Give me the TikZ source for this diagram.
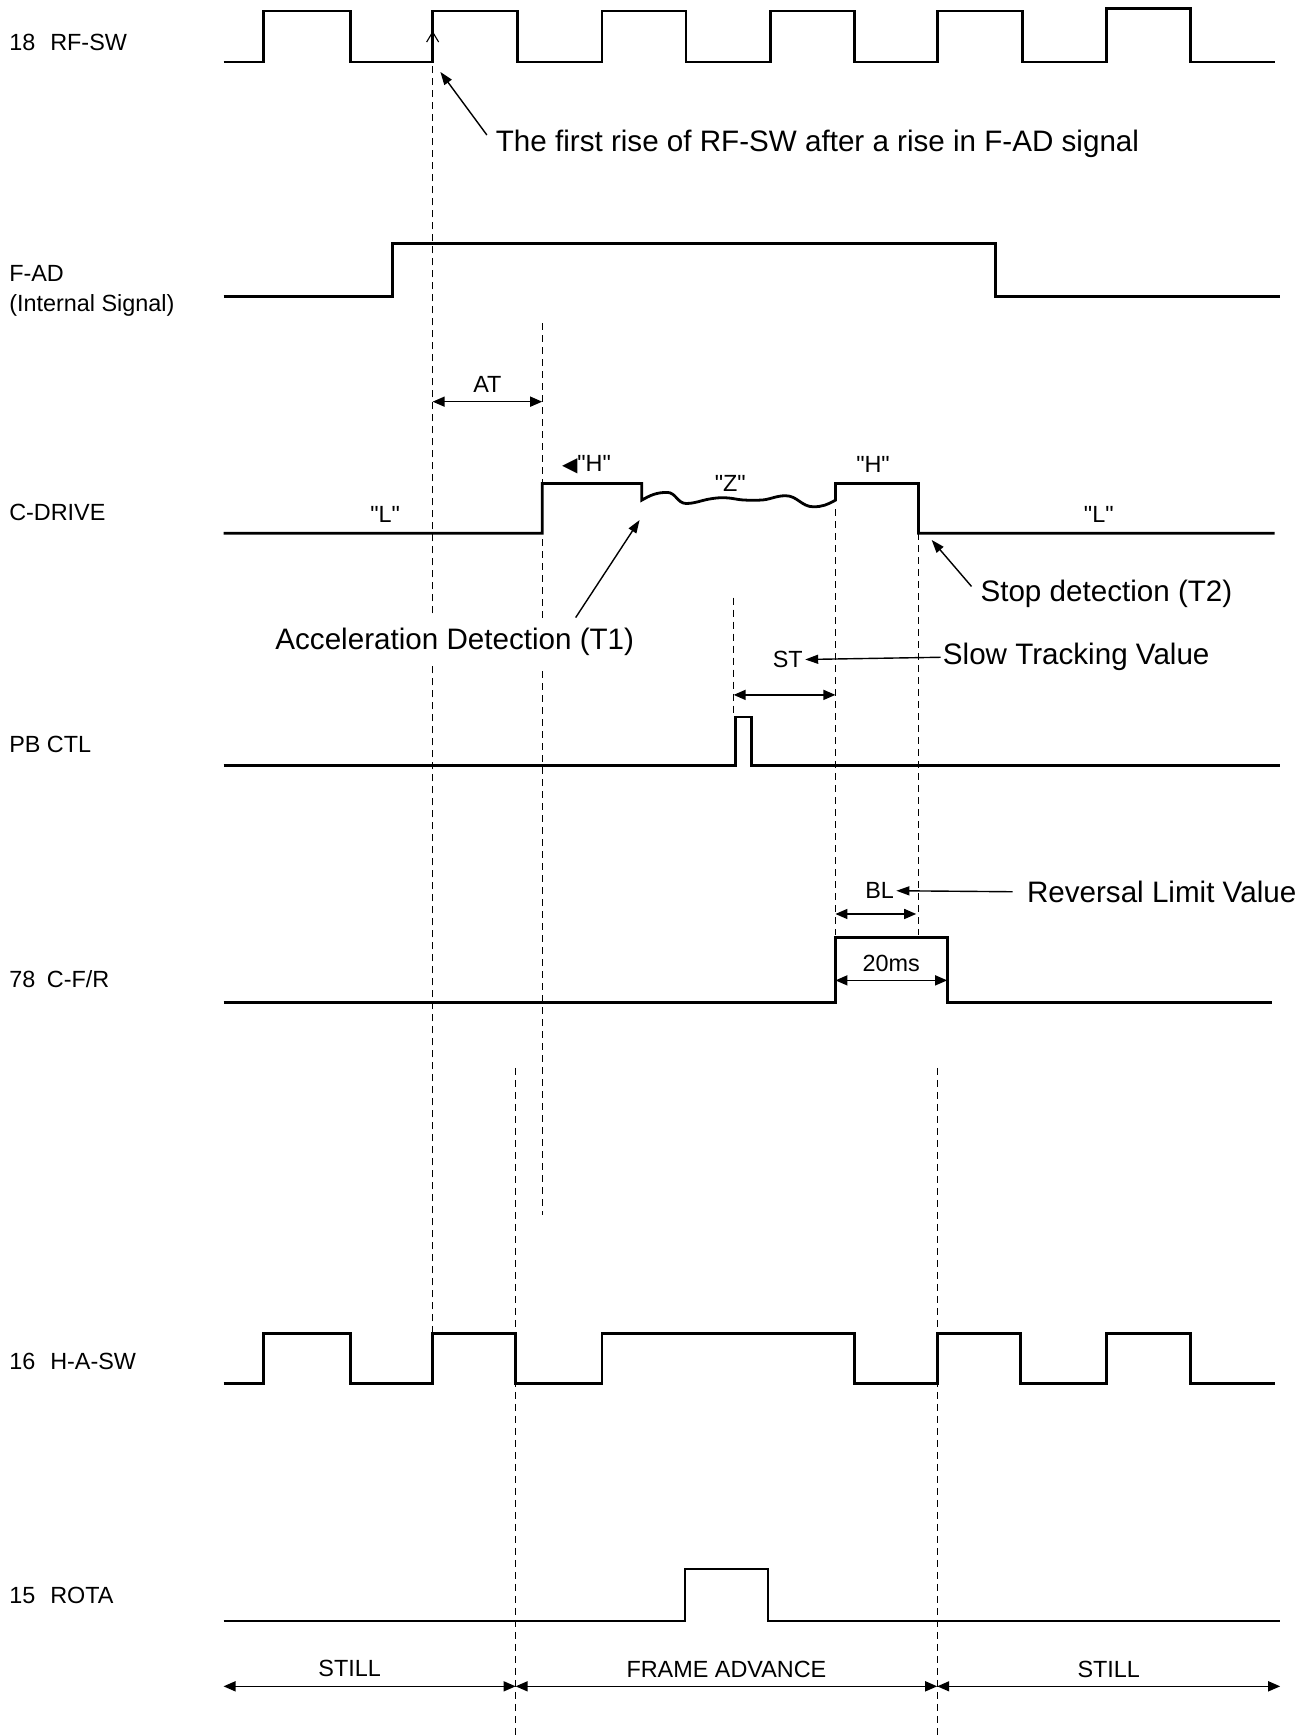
\documentclass[tikz,border=0pt]{standalone}
\usepackage{fontspec}
\setmainfont{Liberation Sans}[Ligatures=TeXOff]
\newfontfamily\symfont{DejaVu Sans}
\usepackage{tikz}
\usetikzlibrary{arrows.meta, positioning, calc}

\begin{document}
\begin{tikzpicture}[
    x=0.5532pt, y=-0.5532pt,
    wave/.style={line width=1.4pt, line join=miter},
    guide/.style={line width=0.55pt, dash pattern=on 3.5pt off 2.5pt},
    dim/.style={{Triangle[length=6pt,width=5pt]}-{Triangle[length=6pt,width=5pt]}, line width=0.75pt},
    pointer/.style={-{Triangle[length=6.5pt,width=4.5pt]}, line width=0.7pt},
    siglabel/.style={anchor=west, inner sep=0pt, font=\fontsize{11.7}{15}\selectfont},
    small/.style={inner sep=1pt, font=\fontsize{11.7}{14}\selectfont},
    note/.style={inner sep=1pt, font=\fontsize{14.8}{18}\selectfont}
]
    \useasboundingbox (0,0) rectangle (1185,1568);

    % Signal names
    \node[siglabel] (rfsw) at (8,38) {18\hspace{7.5pt}RF-SW};
    \node[siglabel, align=left] (fad) at (8,263) {F-AD\\(Internal Signal)};
    \node[siglabel] (cdrive) at (8,463) {C-DRIVE};
    \node[siglabel] (pbctl) at (8,673) {PB CTL};
    \node[siglabel] (cfr) at (8,885) {78\hspace{5.8pt}C-F/R};
    \node[siglabel] (hasw) at (8,1230) {16\hspace{7.5pt}H-A-SW};
    \node[siglabel] (rota) at (8,1442) {15\hspace{7.5pt}ROTA};

    % Waveforms
    \draw[wave] (202,56) -| (238,10) -| (317,56) -| (391,10) -| (468,56) -| (544,10) -| (620,56)
        -| (696,10) -| (772,56) -| (847,10) -| (924,56) -| (1000,8) -| (1076,56) -- (1152,56);
    \draw[wave] (202,268) -| (355,220) -| (900,268) -- (1157,268);
    \draw[wave] (202,482) -| (490,437) -| (580,452)
        to[out=30,in=180] (603,445) to[out=0,in=180] (620,455) to[out=0,in=190] (641,451)
        to[out=10,in=170] (665,451) to[out=-10,in=180] (686,452) to[out=0,in=180] (710,448)
        to[out=0,in=180] (735,458) to[out=0,in=-150] (755,452)
        -- (755,437) -| (830,482) -- (1152,482);
    \draw[wave] (202,692) -| (665,648) -| (679,692) -- (1157,692);
    \draw[wave] (202,906) -| (755,847) -| (856,906) -- (1150,906);
    \draw[wave] (202,1250) -| (238,1205) -| (317,1250) -| (391,1205) -| (466,1250) -| (544,1205)
        -| (772,1250) -| (847,1205) -| (922,1250) -| (1000,1205) -| (1076,1250) -- (1152,1250);
    \draw[wave] (202,1465) -| (619,1418) -| (694,1465) -- (1157,1465);

    % Timing instants
    \coordinate (firstrise) at (391,56);
    \coordinate (accel) at (580,452);
    \coordinate (stopdet) at (830,482);

    % Guide lines
    \draw[guide, -{Straight Barb[length=5pt,width=6pt]}] (391,1205) -- (391,28);
    \draw[guide] (490,292) -- (490,1098);
    \draw[guide] (755,460) -- (755,845);
    \draw[guide] (830,482) -- (830,845);
    \draw[guide] (663,540) -- (663,648);
    \draw[guide] (466,965) -- (466,1568);
    \draw[guide] (847,965) -- (847,1568);

    % Levels on C-DRIVE
    \node[small] (lowa) at (348,465) {"L"};
    \node[small] (higha) at (530,420) {{\symfont\fontsize{10}{12}\selectfont ◀}"H"};
    \node[small] (zstate) at (660,437) {"Z"};
    \node[small] (highb) at (789,420) {"H"};
    \node[small] (lowb) at (993,465) {"L"};

    % Intervals
    \draw[dim] (391,363) -- node[small, above=3pt] (at) {AT} (490,363);
    \draw[dim] (663,628) -- (755,628);
    \draw[dim] (755,826) -- (828,826);
    \draw[dim] (755,886) -- node[small, above=3pt] (ms) {20ms} (856,886);
    \node[small] (st) at (712,596) {ST};
    \node[small] (bl) at (795,805) {BL};

    % Notes
    \node[note, anchor=west] (nfirst) at (446,130) {The first rise of RF-SW after a rise in F-AD signal};
    \node[note, fill=white, inner ysep=5pt] (naccel) at (411,580) {Acceleration Detection (T1)};
    \node[note, anchor=west] (nstop) at (884,537) {Stop detection (T2)};
    \node[note, anchor=west] (nslow) at (850,594) {Slow Tracking Value};
    \node[note, anchor=west] (nrev) at (926,806) {Reversal Limit Value};

    \draw[pointer] ($(nfirst.west)+(-6,-8)$) -- ($(firstrise)+(7,9)$);
    \draw[pointer] ($(naccel.north east)+(-55,0)$) -- ($(accel)+(-2,18)$);
    \draw[pointer] ($(nstop.west)+(-6,-7)$) -- ($(stopdet)+(12,6)$);
    \draw[pointer] (nslow.west) -- (st.east);
    \draw[pointer, shorten <=6pt] (nrev.west) -- (bl.east);

    % Modes
    \draw[dim] (202,1524) -- (466,1524);
    \draw[dim] (466,1524) -- node[small, above=3pt] (frame) {FRAME ADVANCE} (847,1524);
    \draw[dim] (847,1524) -- node[small, above=3pt] (stillb) {STILL} (1157,1524);
    \node[small] (stilla) at (316,1508) {STILL};
\end{tikzpicture}
\end{document}
